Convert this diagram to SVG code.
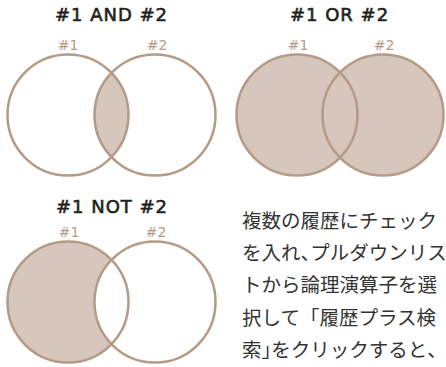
<svg xmlns="http://www.w3.org/2000/svg" width="446" height="367" viewBox="0 0 446 367">
<style>
.title{font-family:"DejaVu Sans","Liberation Sans",sans-serif;font-size:18px;fill:#231f20;stroke:#231f20;stroke-width:0.6;letter-spacing:1px;text-anchor:middle}
.lbl{font-family:"DejaVu Sans","Liberation Sans",sans-serif;font-size:14px;fill:#b49b86;text-anchor:middle}
.ring{fill:none;stroke:#b49b86;stroke-width:2.5}
.fill{fill:#d6c6bb}
.blank{fill:#fff}
.jp{font-family:"Noto Sans CJK JP","Noto Sans CJK SC",sans-serif;font-size:19.5px;fill:#333}
.half{font-feature-settings:"halt" 1}
</style>
<defs>
<clipPath id="clipAndL"><circle cx="68" cy="115" r="60.5"/></clipPath>
</defs>
<rect width="446" height="367" fill="#fff"/>
<g id="and">
<text class="title" x="111.5" y="21">#1 AND #2</text>
<text class="lbl" x="68" y="50">#1</text>
<text class="lbl" x="157" y="50">#2</text>
<circle class="fill" cx="155" cy="115" r="60.5" clip-path="url(#clipAndL)"/>
<circle class="ring" cx="68" cy="115" r="60.5"/>
<circle class="ring" cx="155" cy="115" r="60.5"/>
</g>
<g id="or">
<text class="title" x="339.5" y="21">#1 OR #2</text>
<text class="lbl" x="298" y="50">#1</text>
<text class="lbl" x="384" y="50">#2</text>
<circle class="fill" cx="297" cy="115" r="60.5"/>
<circle class="fill" cx="383" cy="115" r="60.5"/>
<circle class="ring" cx="297" cy="115" r="60.5"/>
<circle class="ring" cx="383" cy="115" r="60.5"/>
</g>
<g id="not">
<text class="title" x="112" y="213">#1 NOT #2</text>
<text class="lbl" x="69" y="237">#1</text>
<text class="lbl" x="156" y="237">#2</text>
<circle class="fill" cx="68" cy="302" r="60.5"/>
<circle class="blank" cx="155" cy="302" r="60.5"/>
<circle class="ring" cx="68" cy="302" r="60.5"/>
<circle class="ring" cx="155" cy="302" r="60.5"/>
</g>
<g id="description">
<text class="jp" x="242" y="228">複数の履歴にチェック</text>
<text class="jp" x="242" y="260">を入れ<tspan class="half">、</tspan>プルダウンリス</text>
<text class="jp" x="242" y="292">トから論理演算子を選</text>
<text class="jp" x="242" y="325">択して「履歴プラス検</text>
<text class="jp" x="242" y="357">索<tspan class="half">」</tspan>をクリックすると<tspan class="half">、</tspan></text>
</g>
</svg>
